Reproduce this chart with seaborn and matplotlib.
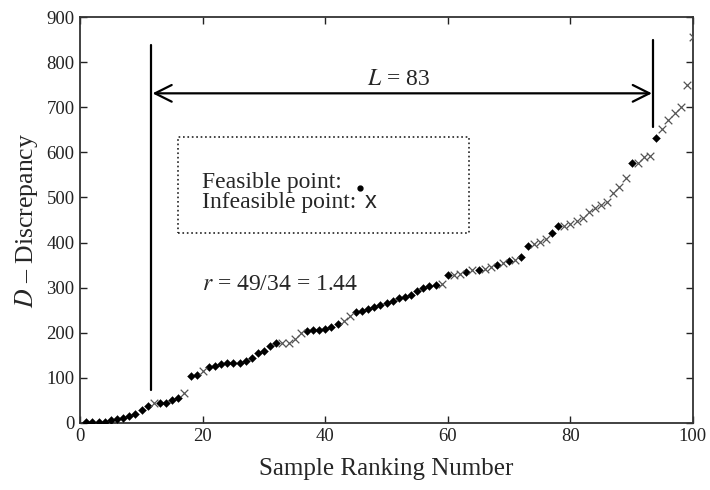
import numpy as np
import pandas as pd
import matplotlib
matplotlib.use("Agg")
import matplotlib.pyplot as plt
import seaborn as sns

# sample ranking number and discrepancy value
rank = list(range(1, 101))
discrepancy = [1, 1, 2, 3, 6, 8, 11, 15, 20, 28,
               37, 45, 44, 44, 50, 56, 66, 104, 107, 115,
               123, 126, 131, 132, 132, 133, 137, 143, 154, 160,
               171, 177, 178, 178, 185, 199, 203, 205, 206, 208,
               212, 220, 227, 236, 246, 249, 253, 257, 261, 265,
               270, 276, 280, 284, 292, 299, 303, 305, 307, 328,
               328, 330, 335, 338, 339, 341, 345, 350, 355, 360,
               362, 368, 392, 396, 402, 408, 421, 437, 436, 441,
               448, 455, 468, 476, 484, 490, 511, 524, 544, 577,
               577, 589, 591, 631, 651, 672, 688, 701, 750, 857]
# ranks of the infeasible points (x markers), the rest are feasible
infeasible_ranks = [12, 17, 20, 33, 34, 35, 36, 43, 44, 59, 61, 62, 64, 66, 67,
                    69, 71, 74, 75, 76, 79, 80, 81, 82, 83, 84, 85, 86, 87, 88,
                    89, 91, 92, 93, 95, 96, 97, 98, 99, 100]

x_ticks = [0, 20, 40, 60, 80, 100]
y_ticks = [0, 100, 200, 300, 400, 500, 600, 700, 800, 900]

df = pd.DataFrame({"rank": rank, "D": discrepancy})
df["status"] = np.where(df["rank"].isin(infeasible_ranks), "Infeasible", "Feasible")

sns.set_style("ticks")
plt.rcParams['font.family'] = ['Liberation Serif', 'DejaVu Serif']
plt.rcParams['mathtext.fontset'] = 'stix'

fig = plt.figure(figsize=(7.1, 4.9), dpi=100)
ax = fig.add_axes([0.113, 0.137, 0.863, 0.828])

sns.scatterplot(data=df[df.status == "Feasible"], x="rank", y="D", marker="D",
                color="black", s=16, edgecolor="black", linewidth=0.3, ax=ax, zorder=3)
sns.scatterplot(data=df[df.status == "Infeasible"], x="rank", y="D", marker="x",
                color="#555555", s=30, linewidth=0.9, ax=ax, zorder=3)

ax.set_xlim(0, 100)
ax.set_ylim(0, 900)
ax.set_xticks(x_ticks)
ax.set_yticks(y_ticks)
ax.tick_params(direction='in', length=5, width=1, top=True, right=True,
               labelsize=13.5, colors='#222222', pad=4)
for sp in ax.spines.values():
    sp.set_visible(True)
    sp.set_linewidth(1.3)
    sp.set_color('#333333')

ax.set_xlabel('Sample Ranking Number', fontsize=18, labelpad=9)
ax.set_ylabel('$D$ – Discrepancy', fontsize=18.5, labelpad=5)

# interval markers and double arrow
ax.plot([11.6, 11.6], [73, 838], color='black', lw=1.6)
ax.plot([93.5, 93.5], [657, 849], color='black', lw=1.6)
ax.annotate('', xy=(11.8, 731), xytext=(93.3, 731),
            arrowprops=dict(arrowstyle='<->', lw=1.6, color='black',
                            mutation_scale=30, shrinkA=0, shrinkB=0))
ax.text(52, 762, '$L$ = 83', fontsize=17, ha='center', va='center')

# legend box
ax.add_patch(plt.Rectangle((16.0, 421), 47.5, 213, fill=False, ls=':', lw=1.2,
                           edgecolor='#222222'))
ax.text(19.8, 533, 'Feasible point: ', fontsize=17, va='center')
ax.plot([45.6], [521], marker='o', ms=3.5, color='black')
ax.text(19.8, 488, 'Infeasible point: ', fontsize=17, va='center')
ax.text(46.4, 490, 'x', fontsize=17, va='center', family=['Liberation Sans', 'DejaVu Sans'])

ax.text(19.8, 308, '$r$ = 49/34 = 1.44', fontsize=17, va='center')

fig.savefig('out.png', dpi=100)
